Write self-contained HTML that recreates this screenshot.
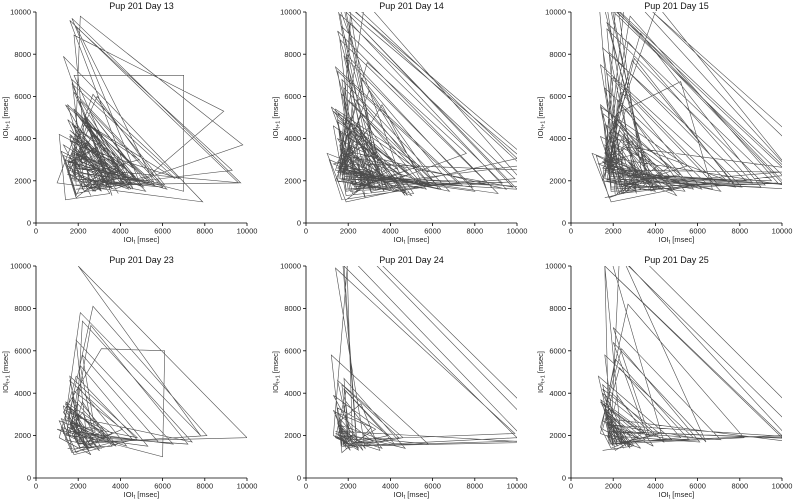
<!DOCTYPE html>
<html><head><meta charset="utf-8">
<style>
html,body{margin:0;padding:0;background:#fff;}
svg{display:block;font-family:"Liberation Sans",sans-serif;}
</style></head>
<body>
<svg id="chart" width="800" height="500" viewBox="0 0 800 500" xmlns="http://www.w3.org/2000/svg"></svg>
<script>
const titles = ["Pup 201 Day 13","Pup 201 Day 14","Pup 201 Day 15","Pup 201 Day 23","Pup 201 Day 24","Pup 201 Day 25"];
const tickValues = [0,2000,4000,6000,8000,10000];
const tickLabels = ["0","2000","4000","6000","8000","10000"];
const ioiDay13 = [2100,3400,1800,4600,2600,5200,1900,3300,2300,5100,1700,2900,3600,1600,4200,2200,4800,2000,3100,1500,2700,6100,1800,2400,3900,1400,5600,1900,9300,2500,1700,3300,2800,4500,1600,4400,2100,5800,1900,2600,1300,3700,2200,4100,1800,7000,7000,1500,2900,3200,1700,2400,4600,1800,3500,2000,2700,4300,1900,5200,1500,2300,3800,1700,6600,2100,4900,3000,2500,1800,8900,5300,2200,1600,4100,2800,1900,1200,3400,2300,5000,1700,9700,1900,2600,3100,1500,4900,2000,2400,3800,1800,6200,1600,2900,3600,1300,7900,1000,1900,4300,2200,1700,3300,2700,1500,5600,1800,2100,9800,3700,1600,2500,4500,1900,1400,3000,2300,1700,6800,2100,3600,1600,3900,2800,1500,2400,5000,1800,2000,4400,1600,2600,3400,1700,4700,2200,1900,1300,3200,2500,4600,1600,9600,1900,1800,4000,2300,1500,2900,6000,1700,2100,3500,1400,1100,4200,2600,1800,5400,1900,1600];
const ioiDay14 = [1900,3200,1600,2800,10500,1700,2300,4100,1500,5200,2600,6900,1800,2100,9500,1600,3500,2400,4700,1300,5300,1900,2700,3100,1400,7400,1800,2200,4500,1600,2900,7600,3300,1700,2000,3700,1500,9100,1400,2500,5900,1800,3300,2100,4800,1300,11000,2000,1600,4300,2600,1900,8000,1500,2400,3600,5600,1700,1100,3000,2200,1800,6400,1600,2700,4200,1900,1500,4900,2300,1700,3400,2000,10600,2500,2800,1200,5500,1800,2500,3900,1600,2100,9800,1700,3200,2400,1500,7200,1900,1300,4600,2200,1800,3000,6300,1600,2600,5100,1400,2000,3500,1800,10200,3100,1500,4000,2700,1700,6100,1900,1000,3300,2400,1600,8700,1800,2100,4700,1500,2900,3800,1700,9300,1900,2200,5700,1600,2500,3100,1400,10800,2800,1800,4400,2300,1700,6800,1500,2600,3600,1900,10000,1600,2100,5000,1300,2800,3200,1800,7900,1700,2400,4200,1500,2000,5800,1900,1600,3700,2200,1400,5400,2700,1800,3300,1600,9900,2100,1500,4800,2500,1700,3000,1900,1100];
const ioiDay15 = [2000,3100,1700,2600,11000,1800,2300,4400,1600,2900,7700,1900,4100,10300,2600,3600,2500,1400,5600,1800,2700,8600,1900,2200,4900,1600,3300,9000,1700,2000,3800,1500,10500,1800,2400,6200,1600,3000,2100,1300,10800,1900,1700,4600,2600,1500,8300,2000,2400,3500,1800,1200,3200,2200,5200,6700,1600,2800,9800,1900,1500,5200,2300,1800,3400,2000,11800,2400,2500,4200,1600,2100,10100,1800,3100,2400,1400,7500,1900,1600,4700,2200,1800,3000,7800,1700,2600,5400,1500,2000,3700,1800,10500,2300,1400,4100,2700,1600,6400,1900,1000,3300,2400,1700,9200,1800,2100,4800,1500,2900,3900,1700,9500,2000,2200,5800,1600,2500,3100,1400,12200,2600,1800,4300,2300,1700,7100,1500,2600,3600,1900,10400,1600,2100,5000,1300,2800,3200,1800,8100,1700,2400,4000,1500,2000,6900,1900,1600,3700,2200,1400,5500,2700,1800,3300,1600,1200];
const ioiDay23 = [1800,2600,1500,3400,1900,2200,7400,1700,2900,1400,3600,2100,1600,4800,1900,2500,1300,3100,6100,6000,1000,2300,1700,3800,1500,2700,8100,2000,1600,3300,1900,1200,2800,2200,5800,1700,2100,1400,3500,1800,2600,7200,1600,2000,4300,1500,2400,1900,3000,1300,2100,7800,2000,10000,1900,1700,2500,1400,3200,2300,1600,4600,1800,1100,2700,2100,5300,1500,2000,3700,1700,1200,2400,1900,6500,1600,2200,3100,1400,1800,4100,2300,1500,2900,1700,1300,3400,2000,1600,2600,1100,1900,4800,1800,2200,3600,1500,1400];
const ioiDay24 = [1700,2300,1500,1900,3600,1400,2100,1800,4200,1600,2500,1300,2000,10500,1700,2200,1500,4600,1900,1400,3100,2400,1600,12000,1800,1500,2600,3500,1300,2000,1700,4400,1900,1600,2800,1400,9900,2100,1800,1500,3300,2300,1700,1200,5800,1600,2000,1800,4700,1400,2200,1900,11500,1700,1500,2700,1300,3900,2000,1600,2400,1800,10000,1900,1500,2100,1300,3200,1700,1600,2500,1400,1900,4100,1800,1500];
const ioiDay25 = [1800,2600,1600,3200,1900,2300,10500,1700,2800,1500,4200,2100,1600,5800,1900,2500,1400,3600,2000,6400,1700,12000,1800,2200,3900,1500,2700,8200,1900,1600,3400,2100,1300,4800,1800,2400,1600,10000,2000,1700,3000,1500,2300,5200,1900,1600,2800,1400,3700,2000,7100,1800,2200,1500,4400,1700,11000,1900,2500,1600,3300,1400,2100,5600,1800,1700,2600,1500,4000,2000,1600,3100,1900,1400,2400,6100,1700,2000,1500,3500,1800,1600,10000,1900,2200,1700,2900,1500,1300];
const panelData = [ioiDay13, ioiDay14, ioiDay15, ioiDay23, ioiDay24, ioiDay25];

const NS = "http://www.w3.org/2000/svg";
const svg = document.getElementById("chart");
function mk(tag, attrs, parent){ const e=document.createElementNS(NS,tag); for(const k in attrs) e.setAttribute(k,attrs[k]); (parent||svg).appendChild(e); return e; }

const colX = [36, 306, 571];
const rowY = [[12,223],[266,478]];
const W = 211;
const defs = mk("defs",{});

panelData.forEach((seq, p) => {
  const c = p % 3, r = Math.floor(p / 3);
  const x0 = colX[c], yTop = rowY[r][0], yBot = rowY[r][1];
  const xs = v => x0 + v / 10000 * W;
  const ys = v => yBot - v / 10000 * (yBot - yTop);
  const g = mk("g", {});
  
  

  const cp = mk("clipPath", {id: "clip" + p}, defs);
  mk("rect", {x: x0, y: yTop, width: W, height: yBot - yTop}, cp);

  let d = "";
  for (let i = 0; i < seq.length - 1; i++) {
    d += (i === 0 ? "M" : "L") + xs(seq[i]).toFixed(1) + "," + ys(seq[i+1]).toFixed(1);
  }
  const path = mk("path", {d: d, fill: "none", stroke: "#3a3a3a", "stroke-width": "0.6", "stroke-opacity": "0.9", "clip-path": "url(#clip" + p + ")"}, g);
  
  

  const xa = mk("line", {x1: x0, y1: yBot, x2: x0 + W, y2: yBot, stroke: "#000", "stroke-width": "0.8"}, g);
  
  
  const ya = mk("line", {x1: x0, y1: yTop, x2: x0, y2: yBot, stroke: "#000", "stroke-width": "0.8"}, g);
  
  

  tickValues.forEach((v, i) => {
    mk("line", {x1: xs(v), y1: yBot, x2: xs(v), y2: yBot + 3, stroke: "#000", "stroke-width": "0.8"}, g);
    const tx = mk("text", {x: xs(v), y: yBot + 10.5, "font-size": "7.5", "text-anchor": "middle", fill: "#222"}, g);
    tx.textContent = tickLabels[i];
    
    
    mk("line", {x1: x0 - 3, y1: ys(v), x2: x0, y2: ys(v), stroke: "#000", "stroke-width": "0.8"}, g);
    const ty = mk("text", {x: x0 - 5, y: ys(v) + 2.6, "font-size": "7.5", "text-anchor": "end", fill: "#222"}, g);
    ty.textContent = tickLabels[i];
    
    
  });

  const t = mk("text", {x: x0 + W/2, y: yTop - 3, "font-size": "9", "text-anchor": "middle", fill: "#111"}, g);
  t.textContent = titles[p];
  
  

  const xl = mk("text", {x: x0 + W/2, y: yBot + 19, "font-size": "7.5", "text-anchor": "middle", fill: "#222"}, g);
  xl.innerHTML = 'IOI<tspan font-size="5.5" dy="1.5">t</tspan><tspan dy="-1.5"> [msec]</tspan>';
  
  

  const yc = (yTop + yBot) / 2;
  const yl = mk("text", {x: 0, y: 0, "font-size": "7.5", "text-anchor": "middle", fill: "#222", transform: "translate(" + (x0 - 28) + "," + yc + ") rotate(-90)"}, g);
  yl.innerHTML = 'IOI<tspan font-size="5.5" dy="1.5">t+1</tspan><tspan dy="-1.5"> [msec]</tspan>';
  
  
});
</script>
</body></html>
